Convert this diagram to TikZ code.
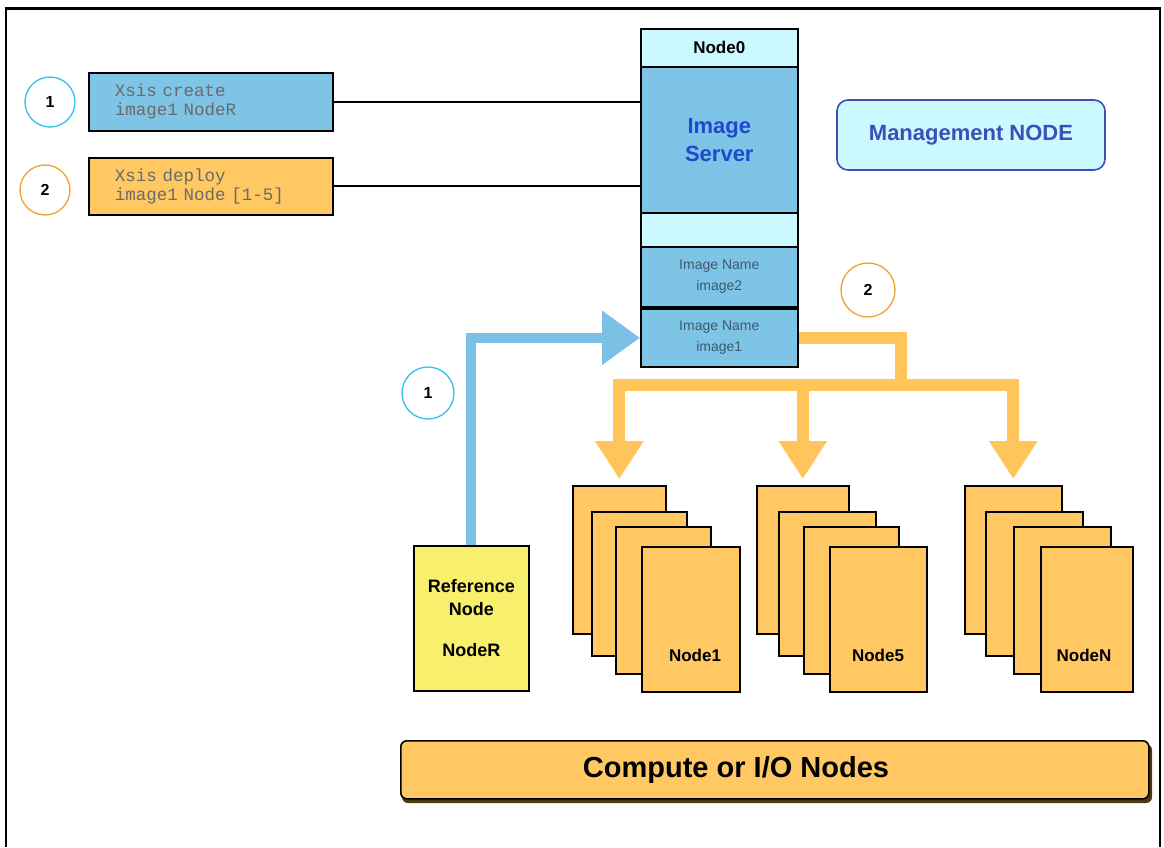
\documentclass[tikz,border=0pt]{standalone}
\usepackage{fontspec}
\setmainfont{Liberation Sans}
\newfontfamily\monofont[WordSpace={1,0,0}]{Liberation Mono}
\usetikzlibrary{arrows.meta,calc}

\definecolor{paleCyan}{HTML}{CCF8FF}
\definecolor{srvBlue}{HTML}{7EC4E6}
\definecolor{cardOrange}{HTML}{FFC862}
\definecolor{refYellow}{HTML}{F8F06C}
\definecolor{pipeBlue}{HTML}{7CC0E6}
\definecolor{pipeOrange}{HTML}{FFC55A}
\definecolor{ringCyan}{HTML}{30C0E8}
\definecolor{ringOrange}{HTML}{F0A030}
\definecolor{textBlue}{HTML}{2048D0}
\definecolor{mgmtBlue}{HTML}{3A4FB8}
\definecolor{nameGray}{HTML}{3C5A6E}
\definecolor{monoGray}{HTML}{6A6A6A}
\definecolor{barShadow}{HTML}{4A3A10}

\tikzset{
  box/.style={draw=black, line width=1.6pt, anchor=north west, inner sep=0pt},
  panel/.style={box, minimum width=157pt},
  card/.style={box, fill=cardOrange},
  ring/.style={circle, draw, line width=1.3pt, inner sep=0pt, minimum size=48pt,
               font=\fontsize{16}{16}\selectfont\bfseries},
  cmd/.style={box, minimum width=244pt, align=left, text width=228pt,
              font=\monofont\fontsize{17.5}{19}\selectfont, text=monoGray},
  thinlink/.style={draw=black, line width=1.8pt},
  bluepipe/.style={draw=pipeBlue, line width=10pt,
                   -{Triangle[width=52pt,length=38pt]}},
  orangepipe/.style={draw=pipeOrange, line width=12pt, line join=miter},
  orangearrow/.style={orangepipe, -{Triangle[width=46pt,length=38pt]}, shorten >=6pt},
  cardlabel/.style={font=\fontsize{17}{17}\selectfont\bfseries, anchor=center},
}

\begin{document}
\begin{tikzpicture}[x=1pt,y=-1pt]
\useasboundingbox (0,0) rectangle (1164,847);

% outer frame
\draw[line width=2pt] (6,847) -- (6,8) -- (1160,8) -- (1160,847);
\draw[line width=3pt] (6,8) -- (1160,8);

% command boxes and step markers
\node[cmd, fill=srvBlue, minimum height=58pt] (xa) at (88,72)
  {\hspace*{18pt}Xsis create\\\hspace*{18pt}image1 NodeR};
\node[cmd, fill=cardOrange, minimum height=57pt] (xb) at (88,157)
  {\hspace*{18pt}Xsis deploy\\\hspace*{18pt}image1 Node [1-5]};
\node[ring, draw=ringCyan, minimum size=50pt] (r1) at (50,102) {1};
\node[ring, draw=ringOrange, minimum size=50pt] (r2) at (45,190) {2};

% management node stack
\node[panel, fill=paleCyan, minimum height=38pt,
      font=\fontsize{17}{17}\selectfont\bfseries] (n0) at (640,28) {Node0};
\node[panel, fill=srvBlue, minimum height=146pt, align=center,
      font=\fontsize{22}{28}\selectfont\bfseries, text=textBlue] (srv) at (640,66)
  {Image\\Server};
\node[panel, fill=paleCyan, minimum height=34pt] (gap) at (640,212) {};
\node[panel, fill=srvBlue, minimum height=60pt, align=center,
      font=\fontsize{14}{21}\selectfont, text=nameGray] (img2) at (640,246)
  {Image Name\\image2};
\node[panel, fill=srvBlue, minimum height=58pt, align=center,
      font=\fontsize{14}{21}\selectfont, text=nameGray] (img1) at (640,308)
  {Image Name\\image1};

\node[draw=mgmtBlue, fill=paleCyan, line width=1.6pt, rounded corners=11pt,
      minimum width=268pt, minimum height=70pt, text=mgmtBlue,
      font=\fontsize{22}{22}\selectfont\bfseries] (mgmt) at (971,135) {Management NODE};

% links from the commands to the image server
\draw[thinlink] (xa.east) -- (xa.east -| srv.west);
\draw[thinlink] (xb.east) -- (xb.east -| srv.west);

% reference node
\node[box, fill=refYellow, minimum width=115pt, minimum height=145pt, align=center,
      font=\fontsize{18}{23}\selectfont\bfseries] (ref) at (413,545)
  {Reference\\Node\\[18pt]NodeR};

% compute node stacks (back to front)
\node[card, minimum width=93pt, minimum height=148pt] (g1a) at (572,485) {};
\node[card, minimum width=95pt, minimum height=144pt] (g1b) at (591,511) {};
\node[card, minimum width=95pt, minimum height=147pt] (g1c) at (615,526) {};
\node[card, minimum width=98pt, minimum height=145pt] (g1d) at (641,546) {};
\node[cardlabel] (l1) at (695,655) {Node1};

\node[card, minimum width=92pt, minimum height=148pt] (g2a) at (756,485) {};
\node[card, minimum width=97pt, minimum height=144pt] (g2b) at (778,511) {};
\node[card, minimum width=95pt, minimum height=147pt] (g2c) at (803,526) {};
\node[card, minimum width=97pt, minimum height=145pt] (g2d) at (829,546) {};
\node[cardlabel] (l5) at (878,655) {Node5};

\node[card, minimum width=97pt, minimum height=148pt] (g3a) at (964,485) {};
\node[card, minimum width=97pt, minimum height=144pt] (g3b) at (985,511) {};
\node[card, minimum width=97pt, minimum height=147pt] (g3c) at (1013,526) {};
\node[card, minimum width=92pt, minimum height=145pt] (g3d) at (1040,546) {};
\node[cardlabel] (lN) at (1084,655) {NodeN};

% step 1: reference node image goes to the server
\draw[bluepipe] (ref.north) |- (img1.west);
\node[ring, draw=ringCyan, minimum size=52pt] (r1b) at (428,393) {1};

% step 2: image is deployed to the compute nodes
\coordinate (bus) at (901,385);
\draw[orangepipe] (img1.east) -| (bus);
\draw[orangearrow] (bus) -| (g1a.north);
\draw[orangearrow] (bus) -| (g2a.north);
\draw[orangearrow] (bus) -| (g3a.north);
\node[ring, draw=ringOrange, minimum size=54pt] (r2b) at (868,290) {2};

% bottom bar
\fill[barShadow, rounded corners=6pt] (402,744) rectangle (1152,803);
\node[draw=black, line width=1.6pt, fill=cardOrange, rounded corners=6pt,
      minimum width=748pt, minimum height=58pt, anchor=north west] (bar) at (400,740) {};
\node[font=\fontsize{29}{29}\selectfont\bfseries] (barlabel) at (736,770) {Compute or I/O Nodes};

\end{tikzpicture}
\end{document}
